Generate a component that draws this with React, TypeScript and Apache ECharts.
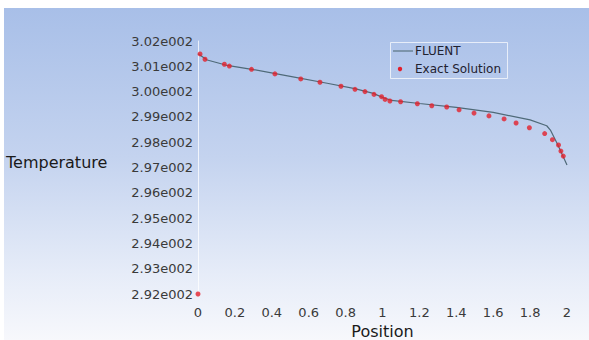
import React, { useEffect, useRef } from "react";
import * as echarts from "echarts";

const yTicks = [292, 293, 294, 295, 296, 297, 298, 299, 300, 301, 302];
const xTicks = [0, 0.2, 0.4, 0.6, 0.8, 1, 1.2, 1.4, 1.6, 1.8, 2];

const fluentX = [0, 0.05, 0.15, 0.3, 0.5, 0.7, 0.85, 0.95, 1.0, 1.05, 1.2, 1.4, 1.6, 1.8, 1.89, 1.91, 1.95, 2.0];
const fluentT = [301.5, 301.25, 301.05, 300.87, 300.6, 300.33, 300.12, 299.93, 299.77, 299.65, 299.53, 299.38, 299.18, 298.88, 298.65, 298.48, 297.9, 297.1];

const exactX = [0, 0.011, 0.038, 0.143, 0.17, 0.29, 0.417, 0.557, 0.661, 0.775, 0.851, 0.905, 0.954, 0.995, 1.014, 1.04, 1.098, 1.189, 1.267, 1.348, 1.415, 1.496, 1.577, 1.659, 1.724, 1.796, 1.879, 1.921, 1.954, 1.967, 1.98];
const exactT = [292.0, 301.49, 301.28, 301.08, 301.01, 300.88, 300.7, 300.5, 300.37, 300.21, 300.09, 300.0, 299.89, 299.8, 299.69, 299.63, 299.6, 299.52, 299.44, 299.39, 299.28, 299.15, 299.04, 298.92, 298.76, 298.57, 298.34, 298.1, 297.89, 297.65, 297.45];

const FONT = "DejaVu Sans, Verdana, sans-serif";

export default function App() {
  const ref = useRef<HTMLDivElement>(null);
  useEffect(() => {
    if (!ref.current) return;
    const chart = echarts.init(ref.current, null, { renderer: "svg" });
    chart.setOption({
      animation: false,
      grid: { left: 198, right: 22, top: 41, bottom: 46, outerBoundsMode: "none", containLabel: false },
      xAxis: {
        type: "value",
        min: xTicks[0],
        max: xTicks[xTicks.length - 1],
        interval: 0.2,
        name: "Position",
        nameLocation: "middle",
        nameGap: 25,
        nameTextStyle: { fontFamily: FONT, fontSize: 16, color: "#1a1a1a" },
        axisLine: { show: false },
        axisTick: { show: false },
        splitLine: { show: false },
        axisLabel: {
          fontFamily: FONT,
          fontSize: 13,
          color: "#3a3a3a",
          margin: 12,
          formatter: (v: number) => String(Math.round(v * 10) / 10),
        },
      },
      yAxis: {
        type: "value",
        min: yTicks[0],
        max: yTicks[yTicks.length - 1],
        interval: 1,
        axisLine: { show: true, lineStyle: { color: "rgba(255,255,255,0.75)", width: 1 } },
        axisTick: { show: false },
        splitLine: { show: false },
        axisLabel: {
          fontFamily: FONT,
          fontSize: 13,
          color: "#3a3a3a",
          margin: 5,
          formatter: (v: number) => (v / 100).toFixed(2) + "e002",
        },
      },
      graphic: [
        {
          type: "text",
          left: 6,
          top: 154,
          style: { text: "Temperature", font: `16px ${FONT}`, fill: "#1a1a1a" },
        },
        {
          type: "rect",
          shape: { x: 390.5, y: 42.5, width: 117, height: 36 },
          style: { fill: "none", stroke: "rgba(255,255,255,0.7)", lineWidth: 1 },
        },
        {
          type: "line",
          shape: { x1: 393, y1: 51, x2: 413, y2: 51 },
          style: { stroke: "#5a7280", lineWidth: 1.2 },
        },
        {
          type: "text",
          x: 415,
          y: 51,
          style: { text: "FLUENT", font: `12px ${FONT}`, fill: "#1f2230", textVerticalAlign: "middle" },
        },
        {
          type: "circle",
          shape: { cx: 400, cy: 69, r: 2.2 },
          style: { fill: "#e3202c" },
        },
        {
          type: "text",
          x: 415,
          y: 69,
          style: { text: "Exact Solution", font: `12px ${FONT}`, fill: "#1f2230", textVerticalAlign: "middle" },
        },
      ],
      series: [
        {
          name: "FLUENT",
          type: "line",
          data: fluentX.map((x, i) => [x, fluentT[i]]),
          symbol: "none",
          lineStyle: { color: "#4f6a78", width: 1.2 },
          z: 2,
        },
        {
          name: "Exact Solution",
          type: "scatter",
          data: exactX.map((x, i) => [x, exactT[i]]),
          symbolSize: 5,
          itemStyle: { color: "#e3202c" },
          z: 3,
        },
      ],
    });
    return () => chart.dispose();
  }, []);
  return (
    <div style={{ position: "fixed", left: 0, top: 0, width: 589, height: 340, background: "#ffffff" }}>
      <div
        style={{
          position: "absolute",
          left: 4,
          top: 8,
          width: 585,
          height: 332,
          background: "linear-gradient(to bottom, #a8bfe8 0%, #c4d3ef 45%, #e6ecf8 80%, #f7f8fc 100%)",
        }}
      />
      <div ref={ref} style={{ position: "absolute", left: 0, top: 0, width: 589, height: 340 }} />
    </div>
  );
}
